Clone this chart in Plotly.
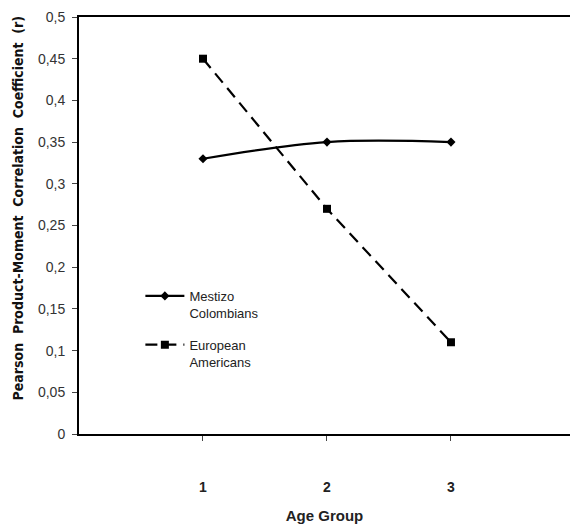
import plotly.graph_objects as go

age_groups = [1, 2, 3]
mestizo = [0.33, 0.35, 0.35]
european = [0.45, 0.27, 0.11]
y_ticks = [0, 0.05, 0.1, 0.15, 0.2, 0.25, 0.3, 0.35, 0.4, 0.45, 0.5]
y_tick_text = ["0", "0,05", "0,1", "0,15", "0,2", "0,25", "0,3", "0,35", "0,4", "0,45", "0,5"]

fig = go.Figure()
fig.add_trace(go.Scatter(
    x=age_groups, y=mestizo, mode="lines+markers", name="Mestizo<br>Colombians",
    legendgroup="a",
    line=dict(color="black", width=2.2, shape="spline"),
    marker=dict(symbol="diamond", size=7, color="black"),
))
fig.add_trace(go.Scatter(
    x=age_groups, y=european, mode="lines+markers", name="European<br>Americans",
    legendgroup="b",
    line=dict(color="black", width=2.2, dash="12px,7px"),
    marker=dict(symbol="square", size=8, color="black"),
))

fig.add_annotation(
    text="<b>Pearson  Product-Moment  Correlation  Coefficient  (r)</b>",
    xref="paper", yref="paper", x=-0.125, y=0.54, xanchor="center", yanchor="middle",
    textangle=-90, showarrow=False,
    font=dict(size=14, color="#111", family="Liberation Sans Narrow, DejaVu Sans Condensed, sans-serif"),
)

fig.update_layout(
    width=570, height=526,
    margin=dict(l=79, r=0, t=17, b=92, autoexpand=False),
    paper_bgcolor="white", plot_bgcolor="white",
    font=dict(family="Liberation Sans, Arial, sans-serif", color="#222", size=12),
    showlegend=True,
    legend=dict(x=0.125, y=0.367, xanchor="left", yanchor="top", valign="top",
                font=dict(size=13, color="#222"), bgcolor="rgba(0,0,0,0)",
                tracegroupgap=12, itemwidth=39),
    xaxis=dict(
        range=[0, 3.96], tickvals=age_groups, ticktext=["<b>%d</b>" % v for v in age_groups],
        showline=True, linecolor="black", linewidth=2, mirror=True, automargin=False,
        ticks="outside", ticklen=5, tickcolor="#444", showgrid=False, zeroline=False,
        tickfont=dict(size=14, color="#222", family="Liberation Sans, Arial, sans-serif"),
        ticklabelstandoff=34,
        title=dict(text="<b>Age Group</b>", font=dict(size=15, color="#222"), standoff=17),
    ),
    yaxis=dict(
        range=[0, 0.5], tickvals=y_ticks, ticktext=y_tick_text,
        showline=True, linecolor="black", linewidth=2, mirror=False, automargin=False,
        ticks="outside", ticklen=5, tickcolor="#444", showgrid=False, zeroline=False,
        tickfont=dict(size=14, color="#333"), ticklabelstandoff=4,
    ),
)

fig.write_html("out.html", config={"displayModeBar": False},
               post_script="document.body.style.margin='0';document.body.style.overflow='hidden';")
